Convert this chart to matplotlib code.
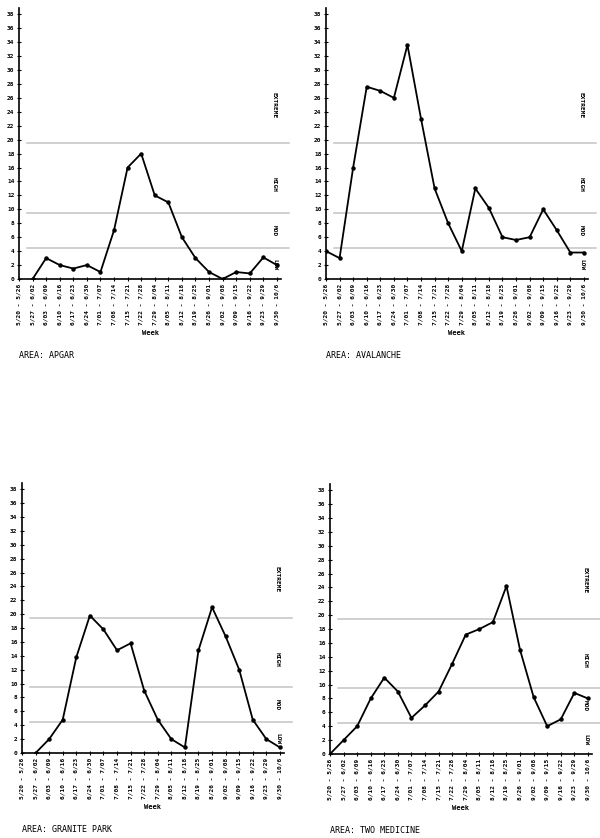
import matplotlib
matplotlib.use("Agg")
import matplotlib.pyplot as plt

weeks = ["5/20 - 5/26", "5/27 - 6/02", "6/03 - 6/09", "6/10 - 6/16", "6/17 - 6/23",
         "6/24 - 6/30", "7/01 - 7/07", "7/08 - 7/14", "7/15 - 7/21", "7/22 - 7/28",
         "7/29 - 8/04", "8/05 - 8/11", "8/12 - 8/18", "8/19 - 8/25", "8/26 - 9/01",
         "9/02 - 9/08", "9/09 - 9/15", "9/16 - 9/22", "9/23 - 9/29", "9/30 - 10/6"]

# values (None = no data that week)
apgar = [None, 0, 3, 2, 1.5, 2, 1, 7, 16, 18, 12, 11, 6, 3, 1, 0, 1, 0.8, 3.1, 2]
avalanche = [4, 3, 16, 27.6, 27, 26, 33.6, 23, 13, 8, 4, 13, 10.2, 6, 5.6, 6, 10, 7, 3.8, 3.8]
granite_park = [None, 0, 2, 4.8, 13.8, 19.8, 17.8, 14.8, 15.8, 9, 4.8, 2, 0.8, 14.8, 21,
                16.8, 12, 4.8, 2, 0.8]
two_medicine = [0, 2, 4, 8, 11, 9, 5.2, 7, 9, 13, 17.2, 18, 19, 24.2, 15, 8.2, 4, 5, 8.8, 8]

areas = ["AREA: APGAR", "AREA: AVALANCHE", "AREA: GRANITE PARK", "AREA: TWO MEDICINE"]
series = [apgar, avalanche, granite_park, two_medicine]

levels = [19.5, 9.5, 4.5]
level_names = ["EXTREME", "HIGH", "MOD", "LOW"]
level_label_y = [25, 13.5, 7, 2]
yticks = list(range(0, 39, 2))

W, H = 600, 838
fig = plt.figure(figsize=(W / 100, H / 100), dpi=100)
fig.patch.set_facecolor("white")

# pixel boxes: (left, zero-line y, width, height)
boxes = [(19, 279, 262, 271), (326, 279, 262, 271), (22, 753, 262, 270), (330, 754, 262, 270)]
mono = "DejaVu Sans Mono"

for (lx, zy, w, h), name, vals in zip(boxes, areas, series):
    ax = fig.add_axes([lx / W, (H - zy) / H, w / W, h / H])
    ax.set_facecolor("white")
    xs = list(range(1, len(weeks) + 1))
    px = [x for x, v in zip(xs, vals) if v is not None]
    py = [v for v in vals if v is not None]
    for lv in levels:
        ax.plot([1.6, 20.9], [lv, lv], color="#c4c4c4", lw=1.1, clip_on=False, zorder=1)
    ax.plot(px, py, color="black", lw=1.3, marker="o", markersize=2.2, zorder=3)
    ax.set_xlim(1, 20.3)
    ax.set_ylim(0, 38.9)
    ax.set_xticks(xs)
    ax.set_xticklabels(weeks, rotation=90, fontsize=4.4, family=mono, fontweight="bold")
    ax.set_yticks(yticks)
    ax.set_yticklabels([str(t) for t in yticks], fontsize=4.4, family=mono, fontweight="bold")
    ax.tick_params(direction="inout", length=3.5, width=0.8, pad=1.5)
    for s in ["top", "right"]:
        ax.spines[s].set_visible(False)
    for s in ["left", "bottom"]:
        ax.spines[s].set_linewidth(1.2)
    for nm, yy in zip(level_names, level_label_y):
        ax.text(0.975, yy, nm, transform=ax.get_yaxis_transform(), rotation=-90,
                ha="center", va="center", fontsize=4.4, family=mono, fontweight="bold")
    ax.text(0.5, -54 / h, "Week", transform=ax.transAxes, ha="center", va="center",
            fontsize=5, family=mono, fontweight="bold")
    ax.text(0.0, -76 / h, name, transform=ax.transAxes, ha="left", va="center",
            fontsize=6, family=mono)

fig.savefig("out.png", dpi=100, facecolor="white")
